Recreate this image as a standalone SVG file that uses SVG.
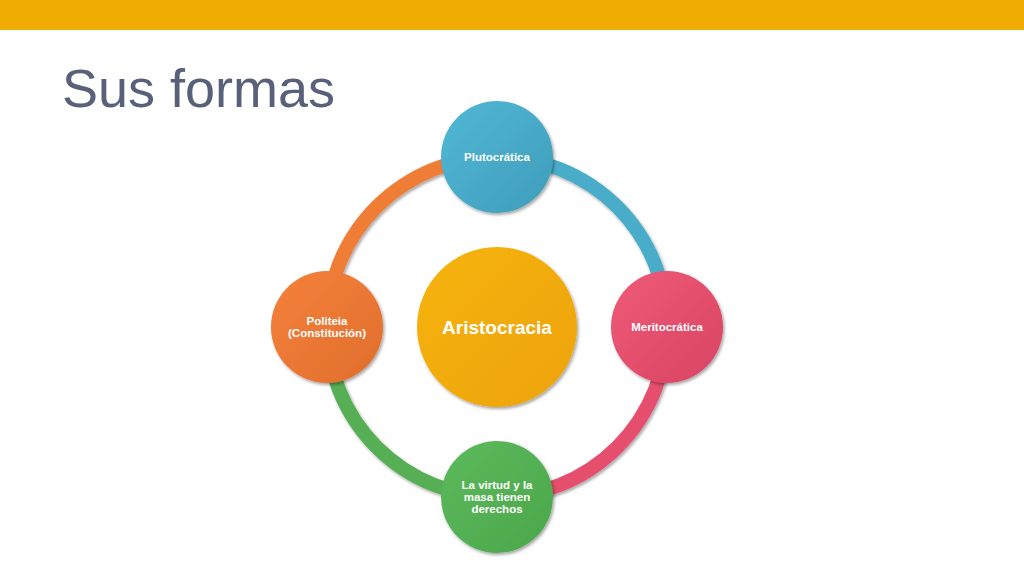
<svg xmlns="http://www.w3.org/2000/svg" width="1024" height="576" viewBox="0 0 1024 576">
<style>
.lbl{font-family:"Liberation Sans",Arial,sans-serif;font-weight:bold;fill:#ffffff;text-anchor:middle}
.s{font-size:11.5px}
.arc{fill:none;stroke-width:14}
</style>
<defs>
<linearGradient id="gB" x1="0" y1="0" x2="1" y2="1"><stop offset="0" stop-color="#52B8D6"/><stop offset="1" stop-color="#3E9DBB"/></linearGradient>
<linearGradient id="gR" x1="0" y1="0" x2="1" y2="1"><stop offset="0" stop-color="#EE5A76"/><stop offset="1" stop-color="#D94464"/></linearGradient>
<linearGradient id="gO" x1="0" y1="0" x2="1" y2="1"><stop offset="0" stop-color="#F5813C"/><stop offset="1" stop-color="#E06E2C"/></linearGradient>
<linearGradient id="gG" x1="0" y1="0" x2="1" y2="1"><stop offset="0" stop-color="#5DBA5C"/><stop offset="1" stop-color="#4AA64A"/></linearGradient>
<linearGradient id="gY" x1="0" y1="0" x2="1" y2="1"><stop offset="0" stop-color="#F6B40C"/><stop offset="1" stop-color="#EDA307"/></linearGradient>
<filter id="sh" x="-20%" y="-20%" width="140%" height="140%"><feDropShadow dx="1.5" dy="2" stdDeviation="1.8" flood-color="#000" flood-opacity="0.35"/></filter>
</defs>
<rect x="0" y="0" width="1024" height="30" fill="#F0AD00"/>
<text x="62" y="107" font-family="'Liberation Sans',Arial,sans-serif" font-size="54" fill="#586179">Sus formas</text>
<g id="connectors" filter="url(#sh)">
<path class="arc" stroke="#4AADC9" d="M497,157 A170,170 0 0 1 667,327"/>
<path class="arc" stroke="#E5506D" d="M667,327 A170,170 0 0 1 497,497"/>
<path class="arc" stroke="#56AE55" d="M497,497 A170,170 0 0 1 327,327"/>
<path class="arc" stroke="#F07D36" d="M327,327 A170,170 0 0 1 497,157"/>
</g>
<g id="plutocratica"><circle cx="497" cy="157" r="56" fill="url(#gB)" filter="url(#sh)"/><text class="lbl s" x="497" y="161">Plutocrática</text></g>
<g id="meritocratica"><circle cx="667" cy="327" r="56" fill="url(#gR)" filter="url(#sh)"/><text class="lbl s" x="667" y="331">Meritocrática</text></g>
<g id="politeia"><circle cx="327" cy="327" r="56" fill="url(#gO)" filter="url(#sh)"/><text class="lbl s" x="327" y="325">Politeia</text><text class="lbl s" x="327" y="337">(Constitución)</text></g>
<g id="virtud"><circle cx="497" cy="497" r="56" fill="url(#gG)" filter="url(#sh)"/><text class="lbl s" x="497" y="489">La virtud y la</text><text class="lbl s" x="497" y="501">masa tienen</text><text class="lbl s" x="497" y="513">derechos</text></g>
<g id="aristocracia"><circle cx="497" cy="327" r="80" fill="url(#gY)" filter="url(#sh)"/><text class="lbl" x="497" y="334" font-size="19">Aristocracia</text></g>
</svg>
